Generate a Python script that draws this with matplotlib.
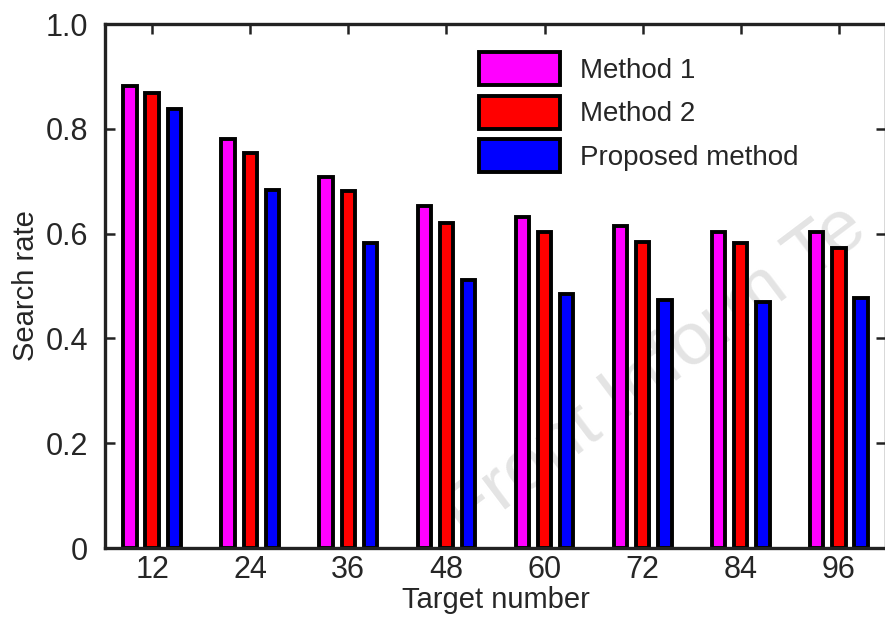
import numpy as np
import matplotlib
matplotlib.use("Agg")
import matplotlib.pyplot as plt

plt.rcParams['font.family'] = ['Liberation Sans', 'DejaVu Sans']

# Data
targets = [12, 24, 36, 48, 60, 72, 84, 96]
method1 = [0.882, 0.781, 0.708, 0.653, 0.631, 0.615, 0.604, 0.604]
method2 = [0.868, 0.753, 0.681, 0.621, 0.603, 0.584, 0.582, 0.573]
proposed = [0.838, 0.683, 0.582, 0.511, 0.485, 0.474, 0.470, 0.477]
series_names = ["Method 1", "Method 2", "Proposed method"]
series_colors = ["#FF00FF", "#FF0000", "#0000FF"]
yticks = [0, 0.2, 0.4, 0.6, 0.8, 1.0]
ytick_labels = ["0", "0.2", "0.4", "0.6", "0.8", "1.0"]

text_color = "#262626"

fig = plt.figure(figsize=(8.85, 6.29), dpi=100)
ax = fig.add_axes([105 / 885, 1 - 548 / 629, 781 / 885, 524 / 629])

x = np.arange(1, len(targets) + 1)
step = 0.226
width = 0.136
for i, (vals, name, col) in enumerate(zip([method1, method2, proposed], series_names, series_colors)):
    ax.bar(x + (i - 1) * step, vals, width=width, color=col, edgecolor="black",
           linewidth=2.8, label=name, zorder=2)

ax.set_xlim(0.52, 8.48)
ax.set_ylim(0, 1.0)
ax.set_xticks(x)
ax.set_xticklabels([str(t) for t in targets])
ax.set_yticks(yticks)
ax.set_yticklabels(ytick_labels)

for sp in ax.spines.values():
    sp.set_linewidth(2.4)
    sp.set_color("#222222")
    sp.set_zorder(3)

ax.tick_params(axis="both", direction="in", length=7, width=1.8, color="#222222",
               labelsize=22, labelcolor=text_color, top=True, right=True)
ax.tick_params(axis="y", pad=12)
ax.tick_params(axis="x", pad=5)

ax.set_xlabel("Target number", fontsize=21, color=text_color, labelpad=1)
ax.set_ylabel("Search rate", fontsize=21, color=text_color, labelpad=4)

leg = ax.legend(loc="upper left", bbox_to_anchor=(479 / 885, 1 - 52 / 629),
                bbox_transform=fig.transFigure, frameon=False, fontsize=20,
                handlelength=2.9, handleheight=1.45, labelspacing=0.38,
                handletextpad=0.72, borderpad=0, borderaxespad=0)
for t in leg.get_texts():
    t.set_color(text_color)

# faint publisher watermark
fig.text(465 / 885, 1 - 540 / 629, "Front Inform Te", fontsize=54, color="#e4e4e4",
         rotation=37, rotation_mode="anchor", ha="left", va="baseline", zorder=1,
         transform=fig.transFigure)
ax.set_zorder(2)
ax.patch.set_alpha(0)

fig.savefig("out.png", dpi=100)
